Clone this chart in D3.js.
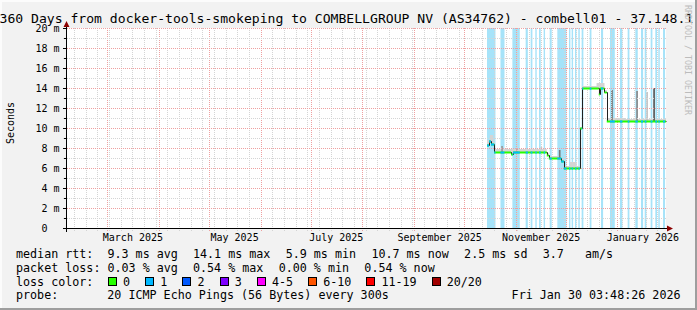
<!DOCTYPE html>
<html>
<head>
<meta charset="utf-8">
<title>360 Days smokeping</title>
<script src="https://d3js.org/d3.v7.min.js"></script>
<style>
  body { margin: 0; background: #f2f2f2; }
  svg { display: block; font-family: "DejaVu Sans Mono", monospace; }
  .grid line { shape-rendering: crispEdges; stroke-dasharray: 1,1; }
  .grid path { display: none; }
  .minor line { stroke: #d4d4d4; }
  .major line { stroke: #eea0a0; }
  .legend text { font-size: 11.7px; fill: #000; white-space: pre; }
</style>
</head>
<body>
<div id="graph"></div>
<script>
const chartStart = "2025-02-04T03:48";
const chartEnd = "2026-01-30T03:48";

// periods with 1/20 packets lost (light blue background, blue median)
const lossPeriods = [
  ["2025-10-14T18:00", "2025-10-19T20:00"], ["2025-10-22T20:00", "2025-10-25T06:00"],
  ["2025-10-30T00:00", "2025-11-03T10:00"], ["2025-11-06T23:00", "2025-11-08T06:00"],
  ["2025-11-09T23:00", "2025-11-11T00:00"], ["2025-11-12T18:00", "2025-11-13T14:00"],
  ["2025-11-14T23:00", "2025-11-16T00:00"], ["2025-11-17T18:00", "2025-11-18T14:00"],
  ["2025-11-21T09:00", "2025-11-22T14:00"], ["2025-11-25T23:00", "2025-12-01T10:00"],
  ["2025-12-02T23:00", "2025-12-03T19:00"], ["2025-12-04T13:00", "2025-12-05T10:00"],
  ["2025-12-06T13:00", "2025-12-07T10:00"], ["2025-12-08T13:00", "2025-12-09T10:00"],
  ["2025-12-10T13:00", "2025-12-11T14:00"], ["2025-12-15T09:00", "2025-12-16T10:00"],
  ["2025-12-22T04:00", "2025-12-23T10:00"], ["2025-12-27T13:00", "2025-12-30T10:00"],
  ["2026-01-02T13:00", "2026-01-04T00:00"], ["2026-01-07T04:00", "2026-01-08T05:00"],
  ["2026-01-11T18:00", "2026-01-13T05:00"], ["2026-01-15T04:00", "2026-01-16T10:00"],
  ["2026-01-17T09:00", "2026-01-18T10:00"], ["2026-01-20T23:00", "2026-01-22T00:00"],
  ["2026-01-23T18:00", "2026-01-24T19:00"], ["2026-01-25T13:00", "2026-01-26T10:00"],
  ["2026-01-28T09:00", "2026-01-29T14:00"]
];

// median rtt (ms), each value holds until the next time
const medianTimes = [
  "2025-10-14T18:00", "2025-10-15T23:00", "2025-10-17T04:00", "2025-10-19T02:00",
  "2025-10-29T04:00", "2025-10-30T09:00", "2025-11-19T15:00", "2025-11-20T20:00",
  "2025-11-28T07:00", "2025-11-29T20:00", "2025-12-09T16:00", "2025-12-10T21:00",
  "2025-12-20T20:00", "2025-12-21T11:00", "2025-12-24T06:00", "2025-12-25T15:00"
];
const medianValues = [8.3, 8.7, 8.4, 7.6, 7.4, 7.6, 7.3, 7.0, 6.7, 6.0, 10.0, 14.0, 13.4, 14.0, 13.6, 10.7];

// smoke: upper edge of the ping spread (ms)
const smokeTimes = [
  "2025-10-14T18:00", "2025-10-16T12:00", "2025-10-18T12:00", "2025-10-19T02:00",
  "2025-11-19T15:00", "2025-11-20T20:00", "2025-11-28T07:00", "2025-11-29T20:00",
  "2025-12-03T12:00", "2025-12-07T12:00", "2025-12-09T16:00", "2025-12-10T21:00",
  "2025-12-19T12:00", "2025-12-24T06:00", "2025-12-25T15:00", "2026-01-06T00:00"
];
const smokeTops = [8.8, 9.3, 8.6, 7.9, 7.5, 7.2, 6.9, 6.2, 6.6, 6.2, 10.1, 14.2, 14.5, 13.8, 11.0, 10.9];

// single slow pings
const spikeTimes = [
  "2025-10-23T07:00", "2025-11-01T06:00", "2025-11-15T21:00", "2025-11-26T21:00",
  "2025-12-28T06:00", "2026-01-12T07:00", "2026-01-18T07:00", "2026-01-22T12:00"
];
const spikeTops = [8.2, 8.0, 8.1, 7.8, 13.8, 13.7, 13.6, 14.0];
const spikeShades = ["#999", "#aaa", "#ccc", "#777", "#777", "#888", "#c0c0c0", "#555"];

const yMajor = [0, 2, 4, 6, 8, 10, 12, 14, 16, 18, 20];
const yMinor = [1, 3, 5, 7, 9, 11, 13, 15, 17, 19];
const monthLabels = ["March 2025", "May 2025", "July 2025", "September 2025", "November 2025", "January 2026"];
const monthLabelDates = ["2025-03-01T00:00", "2025-05-01T00:00", "2025-07-01T00:00", "2025-09-01T00:00", "2025-11-01T00:00", "2026-01-01T00:00"];

const lossLabels = ["0", "1", "2", "3", "4-5", "6-10", "11-19", "20/20"];
const lossColors = ["#26ff00", "#00b8ff", "#0059ff", "#7e00ff", "#ff00ff", "#ff5500", "#ff0000", "#a10000"];

const legendRtt = ["median rtt:  9.3 ms avg", "14.1 ms max", "5.9 ms min", "10.7 ms now", "2.5 ms sd", "3.7   am/s"];
const legendLoss = ["packet loss: 0.03 % avg", "0.54 % max", "0.00 % min", "0.54 % now"];

const parse = d3.utcParse("%Y-%m-%dT%H:%M");
const W = 697, H = 310;
const t0 = parse(chartStart), t1 = parse(chartEnd);

const x = d3.scaleUtc().domain([t0, t1]).range([66, 666]);
const y = d3.scaleLinear().domain([0, 20]).range([228, 28]);

const svg = d3.select("#graph").append("svg")
  .attr("width", W).attr("height", H);

// background with rrdtool style shade
svg.append("rect").attr("width", W).attr("height", H).attr("fill", "#f2f2f2");
svg.append("path").attr("d", `M0,1H${W}M1,0V${H}`).attr("stroke", "#fcfcfc").attr("stroke-width", 2);
svg.append("path").attr("d", `M0,${H - 1}H${W}M${W - 1},0V${H}`).attr("stroke", "#9e9e9e").attr("stroke-width", 2);

svg.append("rect")
  .attr("x", x.range()[0]).attr("y", y(20))
  .attr("width", x.range()[1] - x.range()[0]).attr("height", y(0) - y(20))
  .attr("fill", "#fff");

// loss background
const bands = lossPeriods.map(p => [parse(p[0]), parse(p[1])]);
svg.append("g").selectAll("rect").data(bands).join("rect")
  .attr("x", d => x(d[0])).attr("width", d => x(d[1]) - x(d[0]))
  .attr("y", y(20)).attr("height", y(0) - y(20))
  .attr("fill", "#a6e3f9");

svg.append("clipPath").attr("id", "lossclip")
  .selectAll("rect").data(bands).join("rect")
  .attr("x", d => x(d[0])).attr("width", d => x(d[1]) - x(d[0]))
  .attr("y", 0).attr("height", H);

// smoke
const mTimes = medianTimes.map(parse);
const sTimes = smokeTimes.map(parse);
const stepAt = (times, vals, t) => vals[Math.max(0, d3.bisectRight(times, t) - 1)];
const allTimes = Array.from(new Set([...mTimes, ...sTimes, t1].map(Number))).sort((a, b) => a - b).map(n => new Date(n));

svg.append("path")
  .datum(allTimes)
  .attr("fill", "#d4d4d4")
  .attr("d", d3.area().curve(d3.curveStepAfter)
    .x(d => x(d))
    .y0(d => y(stepAt(mTimes, medianValues, d)) + 0.5)
    .y1(d => y(Math.max(stepAt(sTimes, smokeTops, d), stepAt(mTimes, medianValues, d)))));

svg.append("g").selectAll("rect").data(spikeTimes.map(parse)).join("rect")
  .attr("x", d => x(d)).attr("width", d => x(d3.utcDay.offset(d, 1)) - x(d))
  .attr("y", (d, i) => y(spikeTops[i]))
  .attr("height", (d, i) => y(stepAt(mTimes, medianValues, d)) - y(spikeTops[i]))
  .attr("fill", (d, i) => spikeShades[i]);

// grid
const plotH = y(0) - y(20);
svg.append("g").attr("class", "grid minor")
  .attr("transform", `translate(0,${y(0) + 3})`)
  .call(d3.axisBottom(x).tickValues(d3.utcSunday.range(t0, t1)).tickSize(-(plotH + 3)).tickFormat(""));
svg.append("g").attr("class", "grid major")
  .attr("transform", `translate(0,${y(0) + 3})`)
  .call(d3.axisBottom(x).tickValues(d3.utcMonth.range(t0, t1)).tickSize(-(plotH + 3)).tickFormat(""));
svg.append("g").attr("class", "grid minor")
  .attr("transform", `translate(${x.range()[0] - 3},0)`)
  .call(d3.axisLeft(y).tickValues(yMinor).tickSize(-(x.range()[1] - x.range()[0] + 3)).tickFormat(""));
svg.append("g").attr("class", "grid major")
  .attr("transform", `translate(${x.range()[0] - 3},0)`)
  .call(d3.axisLeft(y).tickValues(yMajor.filter(v => v > 0)).tickSize(-(x.range()[1] - x.range()[0] + 3)).tickFormat(""));

// median line: dark steps, loss coloured segments on top
const medPts = mTimes.map((t, i) => [t, medianValues[i]]).concat([[t1, medianValues[medianValues.length - 1]]]);
svg.append("path")
  .datum(medPts)
  .attr("fill", "none").attr("stroke", "#202020").attr("stroke-width", 1)
  .attr("d", d3.line().curve(d3.curveStepAfter).x(d => Math.round(x(d[0])) + 0.5).y(d => y(d[1]) + 0.5));

const segs = medPts.slice(0, -1).map((d, i) => [d, [medPts[i + 1][0], d[1]]]);
const segLine = d3.line().x(d => x(d[0])).y(d => y(d[1]) + 0.5);
svg.append("g").selectAll("path").data(segs).join("path")
  .attr("fill", "none").attr("stroke", lossColors[0]).attr("stroke-width", 2)
  .attr("d", segLine);
svg.append("g").attr("clip-path", "url(#lossclip)")
  .selectAll("path").data(segs).join("path")
  .attr("fill", "none").attr("stroke", lossColors[1]).attr("stroke-width", 2)
  .attr("d", segLine);

// axes
const axisFont = g => g.attr("font-family", "DejaVu Sans Mono").attr("font-size", 10);
svg.append("g")
  .attr("transform", `translate(0,${y(0)})`)
  .call(d3.axisBottom(x)
    .tickValues(monthLabelDates.map(d => d3.utcDay.offset(parse(d), 15)))
    .tickSize(0).tickPadding(6.2)
    .tickFormat((d, i) => monthLabels[i]))
  .call(axisFont)
  .call(g => g.select(".domain").remove())
  .call(g => g.selectAll("text").attr("fill", "#000"));

svg.append("g")
  .attr("transform", `translate(${x.range()[0]},0)`)
  .call(d3.axisLeft(y).tickValues(yMinor).tickSize(2).tickFormat(""))
  .call(g => g.select(".domain").remove());
svg.append("g")
  .attr("transform", `translate(${x.range()[0]},0)`)
  .call(d3.axisLeft(y).tickValues(yMajor).tickSize(3).tickPadding(3.5)
    .tickFormat(d => d === 0 ? "0\u00a0\u00a0" : d + " m"))
  .call(axisFont)
  .call(g => g.select(".domain").remove())
  .call(g => g.selectAll("text").attr("fill", "#000"));

const x0 = x.range()[0] + 0.5, y0 = y(0) + 0.5;
svg.append("path")
  .attr("d", `M${x.range()[0] - 3},${y0}H${x.range()[1] + 3}M${x0},${y0 + 3}V${y(20) - 3}`)
  .attr("stroke", "#000").attr("shape-rendering", "crispEdges");
svg.append("path")
  .attr("d", `M${x.range()[1] + 1},${y0 - 3}L${x.range()[1] + 7},${y0}L${x.range()[1] + 1},${y0 + 3}Z` +
             `M${x0 - 3},${y(20) - 1}L${x0},${y(20) - 7}L${x0 + 3},${y(20) - 1}Z`)
  .attr("fill", "#8b0000");

// title, unit label and watermark
svg.append("text")
  .attr("x", -0.5).attr("y", 22.5)
  .attr("font-size", 13.1)
  .text("360 Days from docker-tools-smokeping to COMBELLGROUP NV (AS34762) - combell01 - 37.148.1");

svg.append("text")
  .attr("transform", `translate(14,${(y(0) + y(20)) / 2 - 5}) rotate(-90)`)
  .attr("text-anchor", "middle").attr("font-size", 10)
  .text("Seconds");

svg.append("text")
  .attr("transform", "translate(685,5) rotate(90)")
  .attr("font-size", 8.3).attr("fill", "#bcbcbc")
  .text("RRDTOOL / TOBI OETIKER");

// legend: rrdtool packs items left to right with a fixed gap
const charW = 7.02, gap = 15.5, legendX = 16;
const packX = items => { let p = legendX; return items.map(s => { const q = p; p += s.length * charW + gap; return q; }); };
const lg = svg.append("g").attr("class", "legend");
const rowY = [258.3, 271.7, 285.7, 299];
const rttX = packX(legendRtt), lossX = packX(legendLoss);
lg.selectAll(".rtt").data(legendRtt).join("text")
  .attr("x", (d, i) => rttX[i]).attr("y", rowY[0]).text(d => d);
lg.selectAll(".pl").data(legendLoss).join("text")
  .attr("x", (d, i) => lossX[i]).attr("y", rowY[1]).text(d => d);

lg.append("text").attr("x", legendX).attr("y", rowY[2]).text("loss color:");
let sx = 108;
const swatchX = lossLabels.map(l => { const p = sx; sx += 15 + l.length * charW + 15.2; return p; });
lg.selectAll("rect").data(lossLabels).join("rect")
  .attr("x", (d, i) => Math.round(swatchX[i]) + 0.5).attr("y", 277.5)
  .attr("width", 8).attr("height", 8)
  .attr("fill", (d, i) => lossColors[i]).attr("stroke", "#000");
lg.selectAll(".ll").data(lossLabels).join("text")
  .attr("x", (d, i) => swatchX[i] + 15).attr("y", rowY[2]).text(d => d);

lg.append("text").attr("x", legendX).attr("y", rowY[3]).text("probe:");
lg.append("text").attr("x", 107.3).attr("y", rowY[3]).text("20 ICMP Echo Pings (56 Bytes) every 300s");
lg.append("text").attr("x", 680.5).attr("y", rowY[3]).attr("text-anchor", "end").text("Fri Jan 30 03:48:26 2026");
</script>
</body>
</html>
